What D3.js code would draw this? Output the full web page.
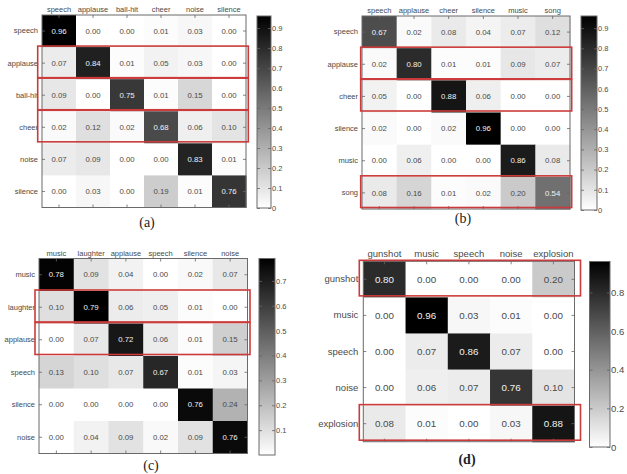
<!DOCTYPE html>
<meta charset="utf-8">
<title>Confusion matrices</title>
<style>
  body { margin: 0; background: #fff; }
  svg text { font-family: "Liberation Sans", Arial, sans-serif; }
</style>
<body>
<script src="https://d3js.org/d3.v7.min.js"></script>
<script>

var width = 627,
    height = 474;

// ---- (a) ----
var labelsA = ["speech", "applause", "ball-hit", "cheer", "noise", "silence"];
var valuesA = [
  [0.96, 0.00, 0.00, 0.01, 0.03, 0.00],
  [0.07, 0.84, 0.01, 0.05, 0.03, 0.00],
  [0.09, 0.00, 0.75, 0.01, 0.15, 0.00],
  [0.02, 0.12, 0.02, 0.68, 0.06, 0.10],
  [0.07, 0.09, 0.00, 0.00, 0.83, 0.01],
  [0.00, 0.03, 0.00, 0.19, 0.01, 0.76]
];
var boxRowsA = [1, 2, 3];
var ticksA = [0, 0.1, 0.2, 0.3, 0.4, 0.5, 0.6, 0.7, 0.8, 0.9];

// ---- (b) ----
var labelsB = ["speech", "applause", "cheer", "silence", "music", "song"];
var valuesB = [
  [0.67, 0.02, 0.08, 0.04, 0.07, 0.12],
  [0.02, 0.80, 0.01, 0.01, 0.09, 0.07],
  [0.05, 0.00, 0.88, 0.06, 0.00, 0.00],
  [0.02, 0.00, 0.02, 0.96, 0.00, 0.00],
  [0.00, 0.06, 0.00, 0.00, 0.86, 0.08],
  [0.08, 0.16, 0.01, 0.02, 0.20, 0.54]
];
var boxRowsB = [1, 2, 5];
var ticksB = [0, 0.1, 0.2, 0.3, 0.4, 0.5, 0.6, 0.7, 0.8, 0.9];

// ---- (c) ----
var labelsC = ["music", "laughter", "applause", "speech", "silence", "noise"];
var valuesC = [
  [0.78, 0.09, 0.04, 0.00, 0.02, 0.07],
  [0.10, 0.79, 0.06, 0.05, 0.01, 0.00],
  [0.00, 0.07, 0.72, 0.06, 0.01, 0.15],
  [0.13, 0.10, 0.07, 0.67, 0.01, 0.03],
  [0.00, 0.00, 0.00, 0.00, 0.76, 0.24],
  [0.00, 0.04, 0.09, 0.02, 0.09, 0.76]
];
var boxRowsC = [1, 2];
var ticksC = [0.1, 0.2, 0.3, 0.4, 0.5, 0.6, 0.7];

// ---- (d) ----
var labelsD = ["gunshot", "music", "speech", "noise", "explosion"];
var valuesD = [
  [0.80, 0.00, 0.00, 0.00, 0.20],
  [0.00, 0.96, 0.03, 0.01, 0.00],
  [0.00, 0.07, 0.86, 0.07, 0.00],
  [0.00, 0.06, 0.07, 0.76, 0.10],
  [0.08, 0.01, 0.00, 0.03, 0.88]
];
var boxRowsD = [0, 4];
var ticksD = [0, 0.2, 0.4, 0.6, 0.8];

// layout of each panel: plot box, colorbar box, caption spot, font size
var panels = [
  { labels: labelsA, values: valuesA, boxes: boxRowsA, ticks: ticksA, max: 0.96, caption: "(a)", bold: false,
    plot: [42, 15, 246, 207.5], cbar: [257, 16, 271, 208], boxX: [37.7, 248.3], cap: [147, 227], font: 7.5, pad: 3 },
  { labels: labelsB, values: valuesB, boxes: boxRowsB, ticks: ticksB, max: 0.96, caption: "(b)", bold: false,
    plot: [362, 16, 570, 209], cbar: [581, 16, 597, 210], boxX: [360.7, 571.7], cap: [463, 223], font: 7.5, pad: 3 },
  { labels: labelsC, values: valuesC, boxes: boxRowsC, ticks: ticksC, max: 0.79, caption: "(c)", bold: false,
    plot: [39, 258.5, 247.5, 453.5], cbar: [259, 258.5, 275, 455], boxX: [35, 250], cap: [151, 470], font: 7.5, pad: 3 },
  { labels: labelsD, values: valuesD, boxes: boxRowsD, ticks: ticksD, max: 0.96, caption: "(d)", bold: true,
    plot: [363.3, 261.3, 574.5, 441.7], cbar: [589.5, 261.5, 610, 447], boxX: [359.3, 580.5], cap: [467, 464], font: 9.5, pad: 4 }
];

var svg = d3.select("body").append("svg")
  .attr("width", width)
  .attr("height", height);

var defs = svg.append("defs");
var grad = defs.append("linearGradient")
  .attr("id", "grayGrad")
  .attr("x1", 0).attr("y1", 1).attr("x2", 0).attr("y2", 0);
grad.append("stop").attr("offset", "0%").attr("stop-color", "#fff");
grad.append("stop").attr("offset", "100%").attr("stop-color", "#000");

panels.forEach(drawPanel);

function styleAxis(g, p, showText) {
  g.select(".domain").remove();
  g.selectAll(".tick line").attr("stroke", "#666").attr("stroke-width", 0.8);
  g.selectAll(".tick text")
    .attr("fill", "#4a4a4a")
    .style("font-size", p.font + "px")
    .style("display", showText ? null : "none");
}

function drawPanel(p) {
  var g = svg.append("g");
  var x0 = p.plot[0], y0 = p.plot[1], x1 = p.plot[2], y1 = p.plot[3];

  var x = d3.scaleBand().domain(p.labels).range([x0, x1]);
  var y = d3.scaleBand().domain(p.labels).range([y0, y1]);
  var color = d3.scaleLinear().domain([0, p.max]).range(["#fff", "#000"]).clamp(true);

  var cells = [];
  p.values.forEach(function (row, r) {
    row.forEach(function (v, c) {
      cells.push({ row: p.labels[r], col: p.labels[c], value: v });
    });
  });

  g.selectAll("rect.cell").data(cells).enter().append("rect")
    .attr("class", "cell")
    .attr("x", d => x(d.col))
    .attr("y", d => y(d.row))
    .attr("width", x.bandwidth() + 0.5)
    .attr("height", y.bandwidth() + 0.5)
    .attr("fill", d => color(d.value));

  g.selectAll("text.val").data(cells).enter().append("text")
    .attr("class", "val")
    .attr("x", d => x(d.col) + x.bandwidth() / 2)
    .attr("y", d => y(d.row) + y.bandwidth() / 2)
    .attr("dy", "0.35em")
    .attr("text-anchor", "middle")
    .style("font-size", (p.font + 0.3) + "px")
    .attr("fill", d => d.value / p.max > 0.5 ? "#f2f2f2" : "#4a4a4a")
    .text(d => d.value.toFixed(2));

  // frame
  g.append("rect")
    .attr("x", x0).attr("y", y0)
    .attr("width", x1 - x0).attr("height", y1 - y0)
    .attr("fill", "none")
    .attr("stroke", "#6a6a6a")
    .attr("stroke-width", 1);

  // axes, ticks pointing inward
  g.append("g").attr("transform", "translate(0," + y0 + ")")
    .call(d3.axisTop(x).tickSizeInner(-3).tickSizeOuter(0).tickPadding(p.pad))
    .call(a => styleAxis(a, p, true));
  g.append("g").attr("transform", "translate(" + x0 + ",0)")
    .call(d3.axisLeft(y).tickSizeInner(-3).tickSizeOuter(0).tickPadding(p.pad + 1))
    .call(a => styleAxis(a, p, true));
  g.append("g").attr("transform", "translate(0," + y1 + ")")
    .call(d3.axisBottom(x).tickSizeInner(-3).tickSizeOuter(0))
    .call(a => styleAxis(a, p, false));
  g.append("g").attr("transform", "translate(" + x1 + ",0)")
    .call(d3.axisRight(y).tickSizeInner(-3).tickSizeOuter(0))
    .call(a => styleAxis(a, p, false));

  // colorbar
  var cb = p.cbar;
  var cy = d3.scaleLinear().domain([0, p.max]).range([cb[3], cb[1]]);
  g.append("rect")
    .attr("x", cb[0]).attr("y", cb[1])
    .attr("width", cb[2] - cb[0]).attr("height", cb[3] - cb[1])
    .attr("fill", "url(#grayGrad)")
    .attr("stroke", "#6a6a6a")
    .attr("stroke-width", 1);
  g.append("g").attr("transform", "translate(" + cb[2] + ",0)")
    .call(d3.axisRight(cy).tickValues(p.ticks).tickFormat(d3.format("~g"))
      .tickSizeInner(-3).tickSizeOuter(0).tickPadding(1))
    .call(a => styleAxis(a, p, true));
  g.append("g").attr("transform", "translate(" + cb[0] + ",0)")
    .call(d3.axisLeft(cy).tickValues(p.ticks).tickSizeInner(-3).tickSizeOuter(0))
    .call(a => styleAxis(a, p, false));

  // red highlight boxes
  g.selectAll("rect.hl").data(p.boxes).enter().append("rect")
    .attr("class", "hl")
    .attr("x", p.boxX[0])
    .attr("y", r => y(p.labels[r]) - 1)
    .attr("width", p.boxX[1] - p.boxX[0])
    .attr("height", y.bandwidth() - 0.5)
    .attr("fill", "none")
    .attr("stroke", "#cc3b3b")
    .attr("stroke-width", 1.6);

  // caption
  g.append("text")
    .attr("x", p.cap[0]).attr("y", p.cap[1])
    .attr("text-anchor", "middle")
    .style("font-family", "'Liberation Serif', 'Times New Roman', serif")
    .style("font-size", "14px")
    .style("font-weight", p.bold ? "bold" : "normal")
    .attr("fill", "#222")
    .text(p.caption);
}

</script>
</body>
</html>
